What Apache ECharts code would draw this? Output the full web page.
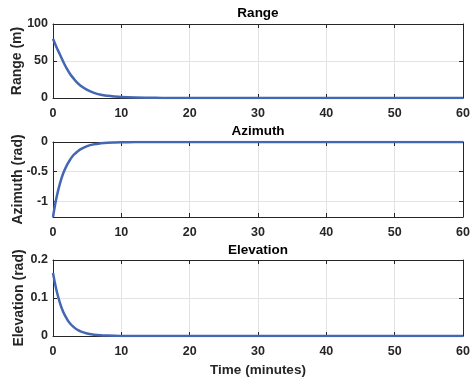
<!DOCTYPE html>
<html>
<head>
<meta charset="utf-8">
<script src="https://cdn.jsdelivr.net/npm/echarts@6/dist/echarts.min.js"></script>
<style>
  html, body { margin: 0; padding: 0; background: #ffffff; }
  #chart { width: 470px; height: 380px; }
</style>
</head>
<body>
<div id="chart"></div>
<script>
// Sample times (minutes)
const times = [0, 0.5, 1, 1.5, 2, 2.5, 3, 3.5, 4, 5, 6, 7, 8, 9, 10, 12, 14, 16, 20, 25, 30, 35, 40, 45, 50, 55, 60];
// Range (m)
const rangeVals = [80, 69, 59, 49, 40, 32.5, 26.5, 21, 17, 11, 7, 4.5, 3, 2, 1.3, 0.6, 0.3, 0.15, 0.03, 0, 0, 0, 0, 0, 0, 0, 0];
// Azimuth (rad)
const azimuthVals = [-1.27, -0.95, -0.71, -0.53, -0.40, -0.30, -0.22, -0.17, -0.125, -0.07, -0.039, -0.022, -0.012, -0.007, -0.004, -0.001, 0, 0, 0, 0, 0, 0, 0, 0, 0, 0, 0];
// Elevation (rad)
const elevationVals = [0.166, 0.121, 0.088, 0.063, 0.046, 0.033, 0.024, 0.017, 0.0125, 0.0065, 0.0035, 0.0018, 0.001, 0.0005, 0.0003, 0.0001, 0, 0, 0, 0, 0, 0, 0, 0, 0, 0, 0];

const panelTitles = ['Range', 'Azimuth', 'Elevation'];
const yNames = ['Range (m)', 'Azimuth (rad)', 'Elevation (rad)'];
const yLimits = [[0, 100], [-1.27, 0], [0, 0.2]];
const xLabel = 'Time (minutes)';

const FONT = 'Liberation Sans, Arial, Helvetica, sans-serif';
const AXIS_COLOR = '#262626';
const GRID_COLOR = '#e3e3e3';
const LINE_COLOR = '#4467b3';

const grids = [
  { left: 53, width: 410, top: 24, height: 74 },
  { left: 53, width: 410, top: 142, height: 75 },
  { left: 53, width: 410, top: 260, height: 76 }
].map(g => Object.assign(g, { containLabel: false, outerBoundsMode: 'none' }));

const nameGaps = [29, 27.5, 27];
const titleTops = [6, 124, 243];

const seriesData = [rangeVals, azimuthVals, elevationVals].map(vals => times.map((t, i) => [t, vals[i]]));

const xAxes = [];
const yAxes = [];
const series = [];
const titles = [];

grids.forEach((g, k) => {
  // bottom x axis with labels and grid lines
  xAxes.push({
    type: 'value', gridIndex: k, min: 0, max: 60, interval: 10,
    axisLine: { show: true, onZero: false, lineStyle: { color: AXIS_COLOR, width: 1 } },
    axisTick: { show: true, inside: true, length: 4, lineStyle: { color: AXIS_COLOR } },
    axisLabel: { color: '#262626', fontFamily: FONT, fontWeight: 'bold', fontSize: 12.5, margin: 9 },
    splitLine: { show: true, lineStyle: { color: GRID_COLOR, width: 1 } },
    name: k === 2 ? xLabel : '',
    nameLocation: 'middle', nameGap: 27, nameMoveOverlap: false,
    nameTextStyle: { color: '#262626', fontFamily: FONT, fontWeight: 'bold', fontSize: 13.5 }
  });
  // top box edge
  xAxes.push({
    type: 'value', gridIndex: k, min: 0, max: 60, interval: 10, position: 'top',
    axisLine: { show: true, onZero: false, lineStyle: { color: AXIS_COLOR, width: 1 } },
    axisTick: { show: true, inside: true, length: 4, lineStyle: { color: AXIS_COLOR } },
    axisLabel: { show: false }, splitLine: { show: false }
  });
  const yBase = {
    type: 'value', gridIndex: k, min: yLimits[k][0], max: yLimits[k][1]
  };
  if (k === 1) {
    yBase.splitNumber = 3;
  } else {
    yBase.interval = k === 0 ? 50 : 0.1;
  }
  yAxes.push(Object.assign({}, yBase, {
    axisLine: { show: true, onZero: false, lineStyle: { color: AXIS_COLOR, width: 1 } },
    axisTick: { show: true, inside: true, length: 4, lineStyle: { color: AXIS_COLOR } },
    axisLabel: {
      color: '#262626', fontFamily: FONT, fontWeight: 'bold', fontSize: 12.5, margin: 5,
      showMinLabel: k !== 1
    },
    splitLine: { show: true, lineStyle: { color: GRID_COLOR, width: 1 } },
    name: yNames[k], nameLocation: 'middle', nameRotate: 90,
    nameGap: nameGaps[k], nameMoveOverlap: false,
    nameTextStyle: { color: '#262626', fontFamily: FONT, fontWeight: 'bold', fontSize: 14 }
  }));
  // right box edge
  yAxes.push(Object.assign({}, yBase, {
    position: 'right',
    axisLine: { show: true, onZero: false, lineStyle: { color: AXIS_COLOR, width: 1 } },
    axisTick: { show: true, inside: true, length: 4, lineStyle: { color: AXIS_COLOR } },
    axisLabel: { show: false }, splitLine: { show: false }
  }));
  series.push({
    type: 'line', xAxisIndex: 2 * k, yAxisIndex: 2 * k,
    data: seriesData[k], smooth: 0.4, showSymbol: false, symbol: 'none',
    lineStyle: { color: LINE_COLOR, width: 2.5 }, clip: true, z: 5
  });
  titles.push({
    text: panelTitles[k], left: g.left + g.width / 2, top: titleTops[k], textAlign: 'center',
    padding: 0,
    textStyle: { color: '#000', fontFamily: FONT, fontWeight: 'bold', fontSize: 13.5, lineHeight: 14 }
  });
});

const chart = echarts.init(document.getElementById('chart'), null, { renderer: 'canvas' });
chart.setOption({
  animation: false,
  backgroundColor: '#ffffff',
  title: titles,
  grid: grids,
  xAxis: xAxes,
  yAxis: yAxes,
  series: series
});
</script>
</body>
</html>
